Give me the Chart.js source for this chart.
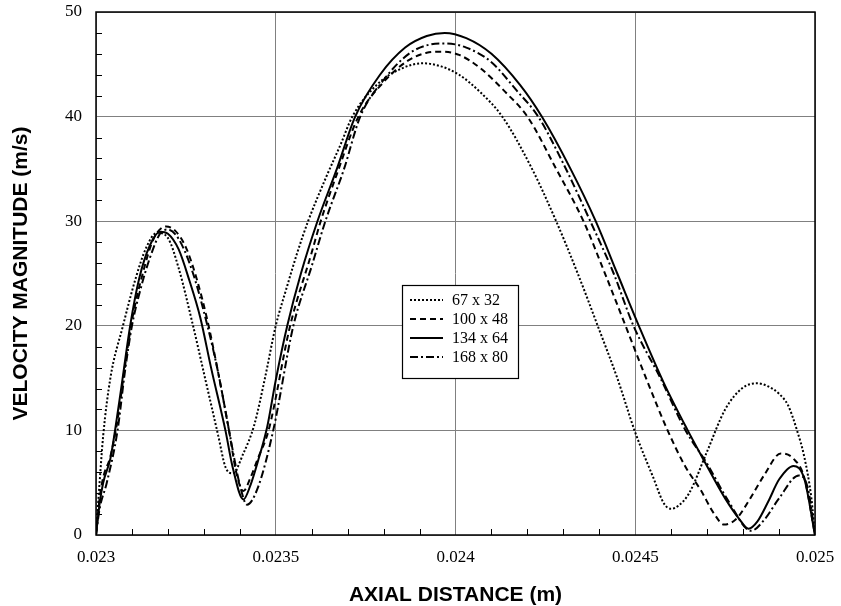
<!DOCTYPE html>
<html>
<head>
<meta charset="utf-8">
<script src="https://cdn.jsdelivr.net/npm/chart.js@4.4.1/dist/chart.umd.min.js"></script>
<style>
html,body{margin:0;padding:0;background:#fff;}
#wrap{width:841px;height:606px;position:relative;}
</style>
</head>
<body>
<div id="wrap"><canvas id="c"></canvas></div>
<script>
const seriesNames = ['67 x 32', '100 x 48', '134 x 64', '168 x 80'];
const xTicks = [0.023, 0.0235, 0.024, 0.0245, 0.025];
const yTicks = [0, 10, 20, 30, 40, 50];

// 67 x 32 (dotted)
const x67 = [0.023, 0.02301, 0.02302, 0.02304, 0.023075, 0.02311, 0.02314, 0.02317, 0.0232, 0.02323, 0.02327, 0.0233, 0.02334, 0.02336, 0.02338, 0.02341, 0.02344, 0.02347, 0.0235, 0.02353, 0.02356, 0.02359, 0.02364, 0.02368, 0.023713, 0.02378, 0.02385, 0.02391, 0.02396, 0.02401, 0.02407, 0.02413, 0.02421, 0.02428, 0.02434, 0.0244, 0.02445, 0.0245, 0.02455, 0.02458, 0.0246, 0.02462, 0.02465, 0.0247, 0.02475, 0.0248, 0.02484, 0.02487, 0.0249, 0.024925, 0.02495, 0.02497, 0.02499, 0.025];
const v67 = [0, 5, 9.5, 15, 20, 24.5, 27.5, 28.9, 28.4, 25.5, 20, 15.5, 9.5, 6.5, 5.9, 7.8, 10.5, 15, 20, 23.6, 27, 30, 34.2, 37.3, 40, 43, 44.6, 45.1, 44.8, 44, 42.3, 40, 35.2, 30, 25, 19.6, 15, 9.8, 5.5, 3, 2.5, 2.8, 4, 8, 12, 14.1, 14.5, 14.2, 13.5, 12.4, 10, 7.5, 3.5, 0];

// 100 x 48 (dashed)
const x100 = [0.023, 0.02301, 0.02302, 0.02304, 0.02306, 0.02308, 0.0231, 0.02313, 0.02316, 0.023195, 0.02322, 0.02325, 0.02328, 0.02331, 0.02334, 0.02337, 0.02339, 0.02341, 0.02343, 0.02345, 0.02348, 0.02354, 0.0236, 0.023625, 0.02367, 0.02373, 0.0238, 0.02387, 0.02392, 0.02396, 0.02401, 0.02407, 0.02414, 0.0242, 0.02428, 0.024356, 0.02441, 0.024473, 0.02453, 0.02459, 0.02464, 0.024682, 0.02472, 0.024747, 0.02478, 0.02482, 0.02486, 0.024905, 0.02494, 0.02497, 0.025];
const v100 = [0, 3.5, 5.5, 7.5, 11, 16, 20.5, 25, 28.3, 29.5, 29.1, 27.5, 24.5, 20.5, 15.5, 10, 6, 4.2, 5.5, 7.3, 10, 20, 27, 30, 34.5, 40, 43.3, 45.4, 46.1, 46.2, 45.9, 44.6, 42.3, 40, 35, 30, 25.5, 20, 15, 10, 6.5, 4.3, 2, 1, 1.5, 3.5, 5.8, 7.8, 7.3, 5.5, 0];

// 134 x 64 (solid)
const x134 = [0.023, 0.02301, 0.02302, 0.02304, 0.023053, 0.02307, 0.023095, 0.02312, 0.02315, 0.023178, 0.0232, 0.02323, 0.02326, 0.02329, 0.02332, 0.02336, 0.02338, 0.02341, 0.02343, 0.02345, 0.023476, 0.0235, 0.023532, 0.02357, 0.023616, 0.02367, 0.023721, 0.02379, 0.02386, 0.02392, 0.02397, 0.02403, 0.0241, 0.02418, 0.02424, 0.02432, 0.02439, 0.02445, 0.02451, 0.02458, 0.024646, 0.02469, 0.02475, 0.02479, 0.024815, 0.02484, 0.02487, 0.0249, 0.02494, 0.02497, 0.025];
const v134 = [0, 3, 5, 7.3, 10, 14, 20, 24.5, 27.7, 29, 28.8, 27.3, 24.3, 20.8, 16, 10, 6.5, 3.4, 4.8, 7, 10.3, 14.8, 20, 25, 30, 35, 40, 44, 46.6, 47.7, 48, 47.5, 46, 43, 40, 35, 30, 25, 20, 14.5, 10, 7.2, 3.5, 1.5, 0.6, 1.3, 3.2, 5.3, 6.6, 5.4, 0];

// 168 x 80 (dash-dot)
const x168 = [0.023, 0.02301, 0.02303, 0.02306, 0.02308, 0.0231, 0.02312, 0.02315, 0.02318, 0.0232, 0.02323, 0.02327, 0.02331, 0.02334, 0.02337, 0.0234, 0.02342, 0.02345, 0.023493, 0.023549, 0.0236, 0.023638, 0.02369, 0.023735, 0.0238, 0.02387, 0.02393, 0.02397, 0.02403, 0.0241, 0.02417, 0.02423, 0.0243, 0.024375, 0.02444, 0.024495, 0.02457, 0.02464, 0.0247, 0.02476, 0.024822, 0.02486, 0.0249, 0.024955, 0.02498, 0.025];
const v168 = [0, 2.5, 5, 10, 15.5, 20, 23, 26.5, 28.9, 29.2, 28.3, 25, 20, 15.5, 10, 4.8, 2.9, 4.5, 10, 20, 25.7, 30, 35, 40, 43.5, 46, 46.9, 47, 46.6, 45.2, 42.5, 40, 35.5, 30, 25, 20, 15, 10, 6.8, 3.2, 0.4, 1.5, 3.5, 5.7, 4.5, 0];

const xs = [x67, x100, x134, x168];
const vs = [v67, v100, v134, v168];
const dashes = [[2, 2], [6, 4], [], [8, 3, 2, 3]];

const serif = '"Liberation Serif", "Times New Roman", serif';
const sans = '"Liberation Sans", Arial, sans-serif';

// minor ticks, plot frame and boxed legend
const frame = {
  id: 'frame',
  afterDraw(chart) {
    const {ctx, chartArea: a, scales: {x, y}} = chart;
    ctx.save();
    ctx.strokeStyle = '#000';
    ctx.lineWidth = 1;
    ctx.setLineDash([]);
    ctx.beginPath();
    for (let v = 2; v < 50; v += 2) {
      if (v % 10 === 0) continue;
      const py = Math.round(y.getPixelForValue(v)) + 0.5;
      ctx.moveTo(a.left, py);
      ctx.lineTo(a.left + 6, py);
    }
    for (let i = 1; i < 20; i++) {
      if (i % 5 === 0) continue;
      const px = Math.round(x.getPixelForValue(0.023 + i * 0.0001)) + 0.5;
      ctx.moveTo(px, a.bottom);
      ctx.lineTo(px, a.bottom - 6);
    }
    ctx.stroke();
    ctx.lineWidth = 1.5;
    ctx.strokeRect(a.left, a.top, a.right - a.left, a.bottom - a.top);

    // legend
    const bx = 402, by = 285, bw = 116, bh = 93;
    ctx.fillStyle = '#fff';
    ctx.fillRect(bx, by, bw, bh);
    ctx.lineWidth = 1.2;
    ctx.strokeRect(bx + 0.5, by + 0.5, bw, bh);
    ctx.font = '16px ' + serif;
    ctx.textBaseline = 'middle';
    ctx.textAlign = 'left';
    chart.data.datasets.forEach((d, i) => {
      const ry = by + 15 + i * 19;
      ctx.beginPath();
      ctx.setLineDash(d.borderDash);
      ctx.lineWidth = d.borderWidth;
      ctx.moveTo(bx + 8, ry);
      ctx.lineTo(bx + 41, ry);
      ctx.stroke();
      ctx.setLineDash([]);
      ctx.fillStyle = '#000';
      ctx.fillText(d.label, bx + 50, ry + 1);
    });
    ctx.restore();
  }
};

new Chart(document.getElementById('c'), {
  type: 'line',
  data: {
    datasets: seriesNames.map((name, i) => ({
      label: name,
      data: xs[i].map((xv, j) => ({x: xv, y: vs[i][j]})),
      borderColor: '#000',
      borderWidth: 2,
      borderDash: dashes[i],
      pointRadius: 0,
      fill: false,
      cubicInterpolationMode: 'monotone'
    }))
  },
  options: {
    animation: false,
    responsive: true,
    maintainAspectRatio: false,
    devicePixelRatio: 1,
    layout: {padding: 0},
    plugins: {legend: {display: false}, tooltip: {enabled: false}},
    scales: {
      x: {
        type: 'linear',
        min: 0.023,
        max: 0.025,
        afterFit: s => { s.height = 71; s.paddingLeft = 0; s.paddingRight = 26; },
        afterBuildTicks: s => { s.ticks = xTicks.map(v => ({value: v})); },
        grid: {color: '#808080', lineWidth: 1, drawTicks: false},
        border: {display: false},
        ticks: {
          color: '#000',
          font: {family: serif, size: 17},
          padding: 12,
          maxRotation: 0,
          callback: v => String(v)
        },
        title: {
          display: true,
          text: 'AXIAL DISTANCE (m)',
          color: '#000',
          font: {family: sans, size: 21, weight: 'bold'},
          padding: {top: 0, bottom: -2}
        }
      },
      y: {
        min: 0,
        max: 50,
        afterFit: s => { s.width = 96; s.paddingTop = 12; s.paddingBottom = 0; },
        afterBuildTicks: s => { s.ticks = yTicks.map(v => ({value: v})); },
        grid: {color: '#808080', lineWidth: 1, drawTicks: false},
        border: {display: false},
        ticks: {
          color: '#000',
          font: {family: serif, size: 17},
          padding: 14
        },
        title: {
          display: true,
          text: 'VELOCITY MAGNITUDE (m/s)',
          color: '#000',
          font: {family: sans, size: 21, weight: 'bold'},
          padding: {top: 9, bottom: 0}
        }
      }
    }
  },
  plugins: [frame]
});
</script>
</body>
</html>
